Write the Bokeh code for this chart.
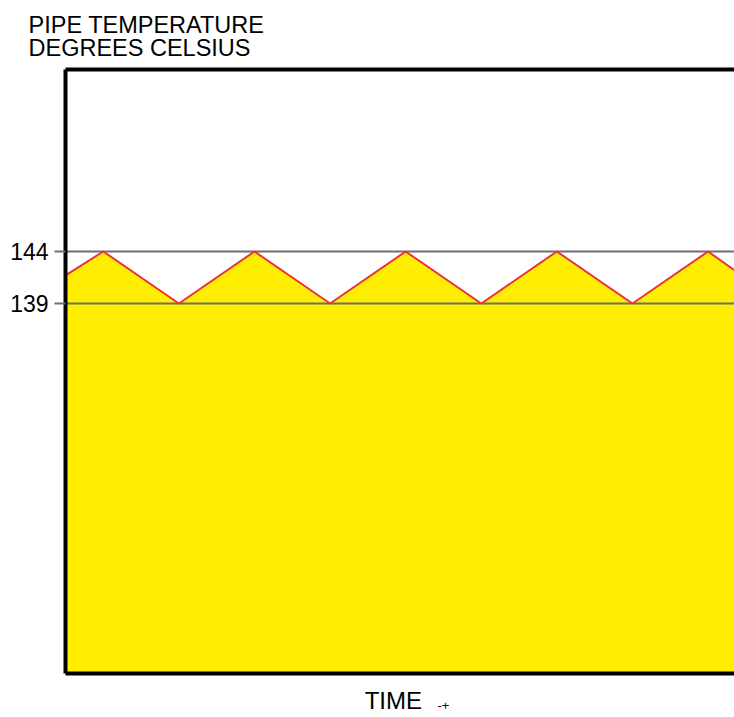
from bokeh.plotting import figure
from bokeh.models import Range1d, LinearAxis, FixedTicker
from bokeh.embed import file_html
from bokeh.resources import INLINE

# data (time in half-cycle units, temperature in degrees C)
times = [-0.5, 0, 1, 2, 3, 4, 5, 6, 7, 8, 8.35]
temps = [141.7, 144, 139, 144, 139, 144, 139, 144, 139, 144, 142.2]
limits = [139, 144]
y_ticks = [139, 144]
title_lines = ["PIPE TEMPERATURE", "DEGREES CELSIUS"]
x_title = "TIME"
arrow = "-+"
arrow_at = 4.5

FONT = "Liberation Sans"
W, H = 734, 717
Y0, Y1 = 103.42, 161.5

p = figure(width=W, height=H, output_backend="svg", toolbar_location=None,
           x_range=Range1d(-0.5, 8.35), y_range=Range1d(Y0, Y1),
           min_border_left=65, min_border_right=0, min_border_top=69,
           min_border_bottom=44, outline_line_color=None,
           x_axis_location=None, y_axis_location=None)
p.grid.visible = False
p.background_fill_color = "white"

p.title.text = "\n".join(title_lines)
p.title.align = "left"
p.title.offset = -37
p.title.text_font = FONT
p.title.text_font_size = "23.5px"
p.title.text_font_style = "normal"
p.title.text_color = "black"
p.title.text_line_height = 0.92
p.title.standoff = 16

base = [Y0] * len(times)
p.varea(x=times, y1=base, y2=temps, fill_color="#FFEE00")
p.hspan(y=limits, line_color="#6E6E6E", line_width=2)
p.line(x=times, y=temps, line_color="#E8343A", line_width=2)

ya = LinearAxis(ticker=FixedTicker(ticks=y_ticks), axis_line_width=4,
                axis_line_color="black", major_tick_in=0, major_tick_out=11,
                major_tick_line_color="#6E6E6E", major_tick_line_width=2,
                minor_tick_line_color=None, major_label_standoff=6,
                major_label_text_font=FONT, major_label_text_font_size="23px",
                major_label_text_color="black")
p.add_layout(ya, "left")

top = LinearAxis(ticker=FixedTicker(ticks=[]), axis_line_width=4,
                 axis_line_color="black", major_tick_line_color=None,
                 major_tick_in=0, major_tick_out=0, major_label_standoff=0,
                 axis_label_standoff=0, minor_tick_line_color=None,
                 major_label_text_font_size="0px")
p.add_layout(top, "above")

bottom = LinearAxis(ticker=FixedTicker(ticks=[arrow_at]), axis_line_width=4,
                    axis_line_color="black", major_tick_in=0, major_tick_out=0,
                    major_tick_line_color=None, minor_tick_line_color=None,
                    major_label_overrides={arrow_at: arrow},
                    major_label_standoff=27, major_label_text_font=FONT,
                    major_label_text_font_size="13px",
                    major_label_text_color="black",
                    axis_label=x_title + "\u00a0\u00a0", axis_label_standoff=-26,
                    axis_label_text_font=FONT, axis_label_text_font_size="24px",
                    axis_label_text_font_style="normal",
                    axis_label_text_color="black")
p.add_layout(bottom, "below")

open("out.html", "w").write(file_html(p, INLINE))
